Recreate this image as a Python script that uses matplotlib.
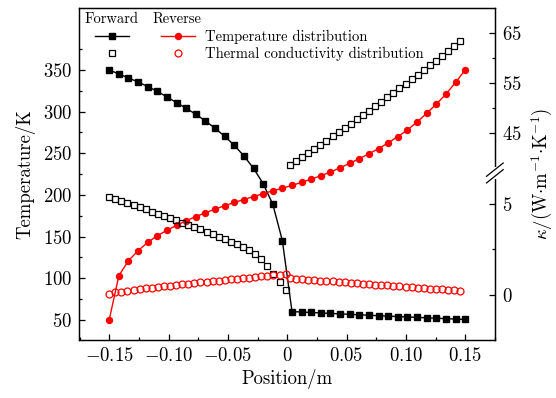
import numpy as np
import matplotlib
matplotlib.use("Agg")
import matplotlib.pyplot as plt
from matplotlib.lines import Line2D
from matplotlib.legend_handler import HandlerTuple

matplotlib.rcParams['font.family'] = 'serif'
matplotlib.rcParams['font.serif'] = ['cmr10']
matplotlib.rcParams['mathtext.fontset'] = 'cm'
matplotlib.rcParams['axes.formatter.use_mathtext'] = True

# temperature grid (38 nodes) and conductivity grid (two halves)
x_T = np.linspace(-0.15, 0.15, 38)
x_k = np.concatenate([np.linspace(-0.15, -0.0013, 30), np.linspace(0.0023, 0.1459, 29)])

T_forward = [350, 345.2, 340.4, 335.6, 330, 324.4, 317.6, 310.8, 304, 296.8,
             288.8, 280, 270.4, 259.6, 246.8, 232, 213.5, 189, 145,
             60.0, 59.4, 58.9, 58.3, 57.8, 57.2, 56.7, 56.1, 55.6, 55.0,
             54.5, 54.0, 53.5, 53.0, 52.5, 52.0, 51.5, 51.0, 50.5]
T_reverse = [50, 103, 121, 133, 143, 151, 157.5, 163.5, 169, 174,
             178.5, 183, 187, 191, 194.5, 198, 201.5, 205, 208, 211.5,
             215, 219, 223, 227.5, 232.5, 238, 243.5, 249.5, 255.5, 262.5,
             270, 278, 287.5, 298, 309, 321, 335, 350]
k_forward = [5.37, 5.26, 5.15, 5.04, 4.93, 4.82, 4.71, 4.58, 4.47, 4.36,
             4.23, 4.10, 3.97, 3.86, 3.74, 3.61, 3.48, 3.34, 3.20, 3.08,
             2.93, 2.79, 2.64, 2.47, 2.25, 1.98, 1.59, 1.15, 0.71, 0.25,
             38.6, 39.4, 40.2, 41.0, 41.8, 42.6, 43.4, 44.3, 45.1, 46.0,
             46.8, 47.7, 48.5, 49.4, 50.3, 51.2, 52.1, 53.0, 53.9, 54.8,
             55.7, 56.6, 57.5, 58.5, 59.4, 60.4, 61.4, 62.4, 63.4]
k_reverse = [0.04, 0.15, 0.18, 0.24, 0.27, 0.33, 0.37, 0.40, 0.44, 0.48,
             0.51, 0.55, 0.59, 0.62, 0.66, 0.70, 0.73, 0.77, 0.79, 0.82,
             0.86, 0.88, 0.92, 0.95, 0.99, 1.03, 1.04, 1.08, 1.10, 1.14,
             0.92, 0.89, 0.87, 0.84, 0.82, 0.79, 0.77, 0.74, 0.72, 0.69,
             0.67, 0.64, 0.62, 0.59, 0.57, 0.54, 0.52, 0.49, 0.47, 0.45,
             0.42, 0.40, 0.38, 0.35, 0.33, 0.31, 0.28, 0.26, 0.24]

x_ticks = [-0.15, -0.10, -0.05, 0, 0.05, 0.10, 0.15]
x_ticklabels = ['$-0.15$', '$-0.10$', '$-0.05$', '$0$', '$0.05$', '$0.10$', '$0.15$']
k_ticks = [0, 5, 45, 55, 65]
k_minor = [2.5, 50, 60]

# broken right axis: lower part 0..6.7, upper part from 37 up (compressed)
BRK_LO, BRK_HI, SQUEEZE = 6.7, 37.0, 5 / 18.2
_k_pts = [-1000, BRK_LO, BRK_HI, 1000]
_v_pts = [-1000, BRK_LO, BRK_LO + 1e-4, BRK_LO + 1e-4 + (1000 - BRK_HI) * SQUEEZE]


def k_fwd(k):
    return np.interp(k, _k_pts, _v_pts)


def k_inv(v):
    return np.interp(v, _v_pts, _k_pts)


fig = plt.figure(figsize=(5.56, 3.98), dpi=100)
ax = fig.add_axes([0.142, 0.146, 0.748, 0.834])
ax2 = ax.twinx()

ax.plot(x_T, T_forward, '-s', color='black', lw=1.0, ms=3.8, zorder=3)
ax.plot(x_T, T_reverse, '-o', color='red', lw=1.0, ms=4.3, zorder=3)
ax2.set_yscale('function', functions=(k_fwd, k_inv))
ax2.plot(x_k, k_forward, 's', color='black', mfc='none', mew=0.9, ms=4.6)
ax2.plot(x_k, k_reverse, 'o', color='red', mfc='none', mew=0.9, ms=5.0)

ax.set_xlim(-0.1755, 0.1744)
ax.set_ylim(26, 424.4)
ax2.set_ylim(-2.47, 70.0)

ax.set_xticks(x_ticks)
ax.set_xticklabels(x_ticklabels)
ax.set_xticks(np.arange(-0.175, 0.176, 0.025), minor=True)
ax.set_yticks(np.arange(50, 351, 50))
ax.set_yticks(np.arange(75, 401, 50), minor=True)
ax2.set_yticks(k_ticks)
ax2.set_yticks(k_minor, minor=True)
ax2.set_yticklabels(['$%d$' % t for t in k_ticks])

for a in (ax, ax2):
    a.tick_params(which='both', direction='in', labelsize=13.5, width=0.9)
    a.tick_params(which='major', length=4, pad=5)
    a.tick_params(which='minor', length=2.2)
    for s in a.spines.values():
        s.set_linewidth(0.9)

ax.set_xlabel('Position/m', fontsize=13.5, labelpad=3)
ax.set_ylabel('Temperature/K', fontsize=13.5, labelpad=5)
ax2.set_ylabel(r'$\kappa/(\mathrm{W}{\cdot}\mathrm{m}^{-1}{\cdot}\mathrm{K}^{-1})$',
               fontsize=13.5, labelpad=6)

# break marks on the right spine
yb = ax2.transAxes.inverted().transform(ax2.transData.transform((0, k_fwd(BRK_LO))))[1]
ax2.plot([1, 1], [yb - 0.013, yb + 0.013], color='white', lw=3,
         transform=ax2.transAxes, clip_on=False, zorder=5)
for dy in (-0.01, 0.01):
    ax2.plot([0.98, 1.02], [yb + dy - 0.02, yb + dy + 0.02], color='black',
             lw=0.9, transform=ax2.transAxes, clip_on=False, zorder=6)

# legend: forward / reverse columns
h_ft = Line2D([], [], color='black', marker='s', lw=1.0, ms=3.8)
h_rt = Line2D([], [], color='red', marker='o', lw=1.0, ms=4.3)
h_fk = Line2D([], [], color='black', marker='s', ls='none', mfc='none', mew=0.9, ms=4.6)
h_rk = Line2D([], [], color='red', marker='o', ls='none', mfc='none', mew=0.9, ms=5.0)
ax.legend([(h_ft, h_rt), (h_fk, h_rk)],
          ['Temperature distribution', 'Thermal conductivity distribution'],
          handler_map={tuple: HandlerTuple(ndivide=None, pad=2.2)},
          handlelength=6.85, handletextpad=0.7, labelspacing=0.2, fontsize=10.5,
          frameon=False, loc='upper left', bbox_to_anchor=(0.024, 0.952),
          borderaxespad=0, numpoints=1)
ax.text(0.0144, 0.967, 'Forward', transform=ax.transAxes, fontsize=10.5, va='center')
ax.text(0.178, 0.967, 'Reverse', transform=ax.transAxes, fontsize=10.5, va='center')

plt.savefig('out.png', dpi=100)
